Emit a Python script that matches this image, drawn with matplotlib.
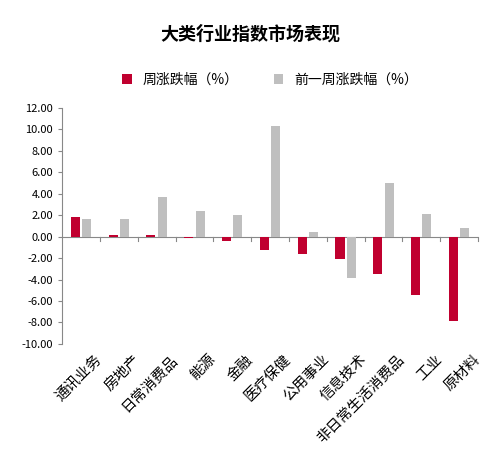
import matplotlib
matplotlib.use("Agg")
import matplotlib.pyplot as plt
import matplotlib.transforms as mtransforms
import numpy as np

plt.rcParams['font.family'] = ['Noto Sans CJK SC', 'DejaVu Sans']

categories = ["通讯业务", "房地产", "日常消费品", "能源", "金融", "医疗保健", "公用事业", "信息技术", "非日常生活消费品", "工业", "原材料"]
week = [1.85, 0.12, 0.12, -0.12, -0.4, -1.25, -1.6, -2.1, -3.45, -5.4, -7.85]
prev = [1.6, 1.65, 3.7, 2.35, 2.0, 10.3, 0.45, -3.9, 4.95, 2.1, 0.8]
yticks = np.arange(-10, 13, 2)

fig = plt.figure(figsize=(5.01, 4.68), dpi=100)
ax = fig.add_axes([0.124, 0.265, 0.83, 0.505])
x = np.arange(len(categories))
w = 0.24
ax.bar(x - 0.15, week, w, color='#C0002F', label='周涨跌幅（%）', zorder=3)
ax.bar(x + 0.15, prev, w, color='#BFBFBF', label='前一周涨跌幅（%）', zorder=3)
ax.set_xlim(-0.5, len(categories) - 0.5)
ax.set_ylim(-10, 12)
ax.set_yticks(yticks)
ax.set_yticklabels([f"{v:.2f}" for v in yticks], fontsize=8)
for s in ['top', 'right', 'bottom']:
    ax.spines[s].set_visible(False)
ax.spines['left'].set_color('#888888')
ax.axhline(0, color='#888888', lw=0.8, zorder=2)
for xb in np.arange(0.5, len(categories), 1.0):
    ax.plot([xb, xb], [0, -0.45], color='#888888', lw=0.8, clip_on=False)
ax.tick_params(axis='y', length=3, color='#888888')
ax.set_xticks(x)
ax.set_xticklabels(categories, rotation=45, ha='right', rotation_mode='anchor', fontsize=10.5)
ax.tick_params(axis='x', length=0, pad=6)
offset = mtransforms.ScaledTranslation(10 / 72, 0, fig.dpi_scale_trans)
for lbl in ax.get_xticklabels():
    lbl.set_transform(lbl.get_transform() + offset)
fig.text(0.5, 0.915, "大类行业指数市场表现", ha='center', fontsize=13, fontweight='bold')
ax.legend(loc='upper center', bbox_to_anchor=(0.5, 1.2), ncol=2, frameon=False, fontsize=10, handlelength=0.7, handleheight=0.7, columnspacing=2.5)
fig.savefig("out.png", dpi=100)
